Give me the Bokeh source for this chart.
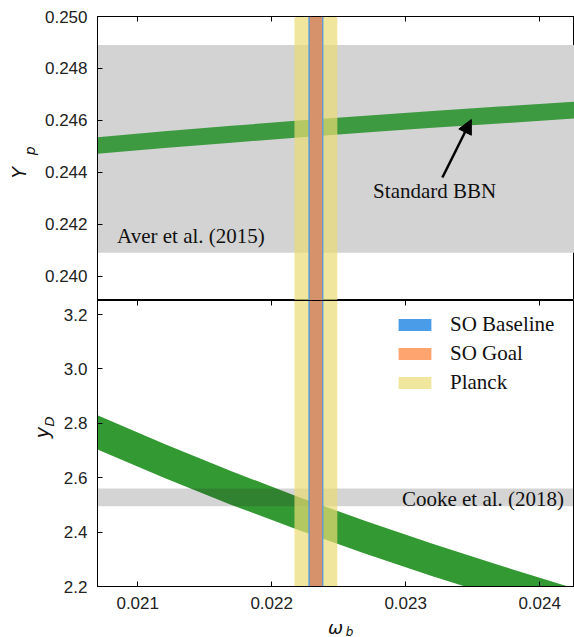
import math
from bokeh.plotting import figure
from bokeh.models import (Range1d, LinearAxis, FixedTicker, PrintfTickFormatter, Label,
                          Arrow, NormalHead, Legend, LegendItem)
from bokeh.core.properties import value
from bokeh.layouts import column, row
from bokeh.embed import file_html
from bokeh.resources import INLINE

# ---------------- data ----------------
omega_b = [0.0207, 0.0212, 0.0217, 0.0222, 0.0227, 0.0232, 0.0237, 0.0242, 0.02426]
yp_lower = [0.24471, 0.24493, 0.24514, 0.24534, 0.24553, 0.24571, 0.24588, 0.24605, 0.24607]
yp_upper = [0.24535, 0.24558, 0.24579, 0.24599, 0.24618, 0.24636, 0.24653, 0.24670, 0.24672]
yd_upper = [2.830, 2.724, 2.624, 2.529, 2.441, 2.357, 2.278, 2.202, 2.193]
yd_lower = [2.704, 2.599, 2.500, 2.408, 2.320, 2.238, 2.160, 2.086, 2.078]

aver_yp = [0.2409, 0.2489]          # Aver et al. (2015) Yp band
cooke_yd = [2.495, 2.560]           # Cooke et al. (2018) yD band
planck_ob = [0.02217, 0.02249]
so_baseline_ob = [0.022274, 0.022386]
so_goal_ob = [0.022284, 0.022377]

x_ticks = [0.021, 0.022, 0.023, 0.024]
yp_ticks = [0.240, 0.242, 0.244, 0.246, 0.248, 0.250]
yd_ticks = [2.2, 2.4, 2.6, 2.8, 3.0, 3.2]

x_lim = [0.0207, 0.02426]
yp_lim = [0.23906, 0.250]
yd_lim = [2.2, 3.2515]

# ---------------- styles ----------------
TICK_FONT = "Liberation Sans"
SERIF = "Liberation Serif"
SERIF_SIZE = "21px"
MATH_FONT = "DejaVu Sans"
GREEN_TOP = "#3D9A40"
GREEN_BOT = "#339933"
BLUE = "#4A9BE8"
ORANGE_PLOT = "#D6926A"
ORANGE_LEG = "#FDA46F"
YELLOW = "#EADC73"
TXT = "#111111"


def style_axis(ax, labels=True):
    ax.major_tick_in = 5
    ax.major_tick_out = 0
    ax.minor_tick_line_color = None
    ax.axis_line_color = "black"
    ax.major_tick_line_color = "black"
    ax.major_label_text_font = TICK_FONT
    ax.major_label_text_color = "#222222"
    if labels:
        ax.major_label_text_font_size = "17px"
        ax.major_label_standoff = 10
    else:
        ax.major_label_text_font_size = "0px"
        ax.major_label_text_color = None
        ax.major_label_standoff = 0


def base_fig(width, height, y_lim, left, top_b, bottom_b, x_loc):
    p = figure(width=width, height=height,
               x_range=Range1d(*x_lim), y_range=Range1d(*y_lim),
               output_backend="svg", toolbar_location=None,
               x_axis_location=x_loc,
               min_border_left=left, min_border_right=0,
               min_border_top=top_b, min_border_bottom=bottom_b)
    p.xgrid.visible = False
    p.ygrid.visible = False
    p.outline_line_color = "black"
    p.outline_line_width = 1
    p.background_fill_color = "white"
    p.border_fill_color = "white"
    return p


def strip_fig(width, height):
    s = figure(width=width, height=height, x_range=Range1d(0, width), y_range=Range1d(0, height),
               output_backend="svg", toolbar_location=None,
               x_axis_location=None, y_axis_location=None,
               min_border_left=0, min_border_right=0, min_border_top=0, min_border_bottom=0)
    s.xgrid.visible = False
    s.ygrid.visible = False
    s.outline_line_color = None
    s.border_fill_color = "white"
    return s


def math_text(s, x, y, txt, size, angle=0.0):
    s.text(x=[x], y=[y], text=[txt], angle=angle, text_font=value(MATH_FONT),
           text_font_style="italic", text_font_size=size, text_color=TXT,
           text_align="center", text_baseline="middle")


# ---------------- top panel: Yp ----------------
top = base_fig(534, 300, yp_lim, 57, 16, 0, None)
top.yaxis.ticker = FixedTicker(ticks=yp_ticks)
top.yaxis.formatter = PrintfTickFormatter(format="%.3f")
style_axis(top.yaxis[0])
ax_top = LinearAxis(ticker=FixedTicker(ticks=x_ticks))
style_axis(ax_top, labels=False)
top.add_layout(ax_top, "above")

top.quad(left=[x_lim[0]], right=[x_lim[1]], bottom=[aver_yp[0]], top=[aver_yp[1]],
         fill_color="#D3D3D3", line_color=None)
top.varea(x=omega_b, y1=yp_lower, y2=yp_upper, fill_color=GREEN_TOP)
top.quad(left=[planck_ob[0]], right=[planck_ob[1]], bottom=[yp_lim[0]], top=[yp_lim[1]],
         fill_color=YELLOW, fill_alpha=0.7, line_color=None)
top.quad(left=[so_baseline_ob[0]], right=[so_baseline_ob[1]], bottom=[yp_lim[0]], top=[yp_lim[1]],
         fill_color=BLUE, line_color=None)
top.quad(left=[so_goal_ob[0]], right=[so_goal_ob[1]], bottom=[yp_lim[0]], top=[yp_lim[1]],
         fill_color=ORANGE_PLOT, line_color=None)

top.add_layout(Label(x=0.020846, y=0.24153, text="Aver et al. (2015)",
                     text_font=SERIF, text_font_size=SERIF_SIZE, text_color=TXT,
                     text_align="left", text_baseline="middle"))
top.add_layout(Label(x=0.022757, y=0.24327, text="Standard BBN",
                     text_font=SERIF, text_font_size=SERIF_SIZE, text_color=TXT,
                     text_align="left", text_baseline="middle"))
top.add_layout(Arrow(x_start=0.023274, y_start=0.24380, x_end=0.02349, y_end=0.24603,
                     line_color="black", line_width=2.5,
                     end=NormalHead(size=14, fill_color="black", line_color="black", line_width=1)))

# left strip with the Y_p title
strip_top = strip_fig(40, 300)
math_text(strip_top, 18.3, 135, "Y", "19px", math.pi / 2)
math_text(strip_top, 29, 158, "p", "14px", math.pi / 2)

# ---------------- bottom panel: yD ----------------
bot = base_fig(518, 317, yd_lim, 41, 0, 31, "below")
bot.yaxis.ticker = FixedTicker(ticks=yd_ticks)
bot.yaxis.formatter = PrintfTickFormatter(format="%.1f")
bot.xaxis.ticker = FixedTicker(ticks=x_ticks)
bot.xaxis.formatter = PrintfTickFormatter(format="%.3f")
style_axis(bot.yaxis[0])
style_axis(bot.xaxis[0])
ax_top2 = LinearAxis(ticker=FixedTicker(ticks=x_ticks))
style_axis(ax_top2, labels=False)
bot.add_layout(ax_top2, "above")

bot.varea(x=omega_b, y1=yd_lower, y2=yd_upper, fill_color=GREEN_BOT)
bot.quad(left=[x_lim[0]], right=[x_lim[1]], bottom=[cooke_yd[0]], top=[cooke_yd[1]],
         fill_color="#2A2A2A", fill_alpha=0.2, line_color=None)
r_planck = bot.quad(left=[planck_ob[0]], right=[planck_ob[1]], bottom=[yd_lim[0]], top=[yd_lim[1]],
                    fill_color=YELLOW, fill_alpha=0.7, line_color=None)
r_base = bot.quad(left=[so_baseline_ob[0]], right=[so_baseline_ob[1]], bottom=[yd_lim[0]], top=[yd_lim[1]],
                  fill_color=BLUE, line_color=None)
bot.quad(left=[so_goal_ob[0]], right=[so_goal_ob[1]], bottom=[yd_lim[0]], top=[yd_lim[1]],
         fill_color=ORANGE_PLOT, line_color=None)
# legend swatch for SO Goal (lighter orange, as in the key)
r_goal_leg = bot.quad(left=[so_goal_ob[0]], right=[so_goal_ob[1]], bottom=[yd_lim[0]], top=[yd_lim[1]],
                      fill_color=ORANGE_LEG, line_color=None, visible=False)

bot.add_layout(Label(x=0.024182, y=2.521, text="Cooke et al. (2018)",
                     text_font=SERIF, text_font_size=SERIF_SIZE, text_color=TXT,
                     text_align="right", text_baseline="middle"))

legend = Legend(items=[LegendItem(label="SO Baseline", renderers=[r_base]),
                       LegendItem(label="SO Goal", renderers=[r_goal_leg]),
                       LegendItem(label="Planck", renderers=[r_planck])],
                location=(297, 191), orientation="vertical",
                border_line_color=None, background_fill_alpha=0,
                inactive_fill_alpha=0,
                glyph_width=41, glyph_height=15, label_standoff=15,
                label_text_font=SERIF, label_text_font_size=SERIF_SIZE, label_text_color=TXT,
                label_height=20, spacing=4, padding=0, margin=0)
bot.add_layout(legend)

# left strip with the y_D title
strip_bot = strip_fig(56, 317)
math_text(strip_bot, 41.5, 170.5, "y", "19px", math.pi / 2)
math_text(strip_bot, 48.5, 183, "D", "13px", math.pi / 2)

# bottom strip with the omega_b title
strip_x = strip_fig(574, 20)
math_text(strip_x, 335, 10, "ω", "18px")
math_text(strip_x, 349, 6, "b", "12px")

layout = column(row(strip_top, top, spacing=0),
                row(strip_bot, bot, spacing=0),
                strip_x, spacing=0)
open("out.html", "w").write(file_html(layout, INLINE))
